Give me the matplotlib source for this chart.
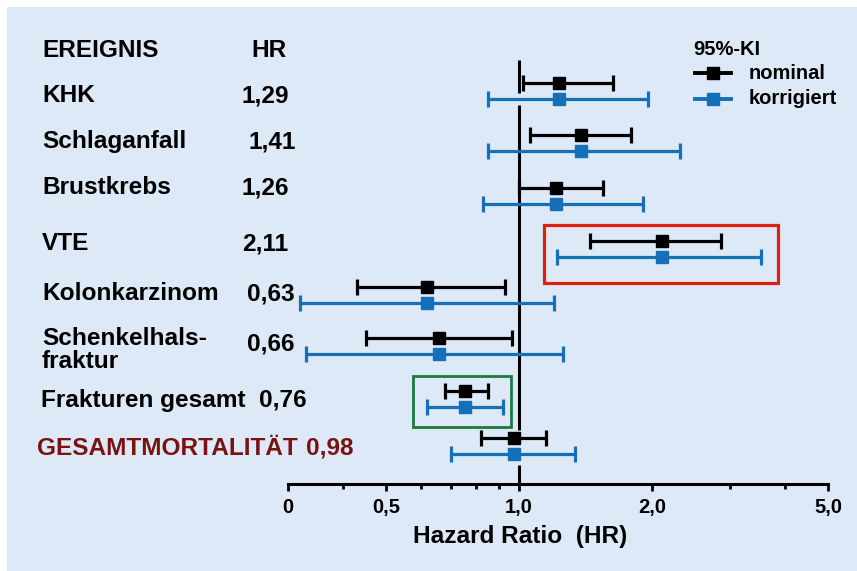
import numpy as np
import matplotlib
matplotlib.use('Agg')
from matplotlib import pyplot as plt
from matplotlib.patches import Rectangle

plt.rcParams['font.family'] = ['Liberation Sans', 'DejaVu Sans']
plt.rcParams['font.weight'] = 'bold'

W, H = 857, 571
bg = '#dde9f7'
blue = '#1570b8'
darkred = '#7a1212'

### Data
events = ['KHK', 'Schlaganfall', 'Brustkrebs', 'VTE', 'Kolonkarzinom',
          'Schenkelhals-\nfraktur', 'Frakturen gesamt', 'GESAMTMORTALITÄT']
hr_text = ['1,29', '1,41', '1,26', '2,11', '0,63', '0,66', '0,76', '0,98']
hr = [1.23, 1.38, 1.21, 2.11, 0.62, 0.66, 0.755, 0.976]
nom_lo = [1.02, 1.06, 1.00, 1.45, 0.43, 0.45, 0.68, 0.82]
nom_hi = [1.63, 1.79, 1.55, 2.87, 0.93, 0.965, 0.85, 1.15]
kor_lo = [0.85, 0.85, 0.83, 1.22, 0.32, 0.33, 0.62, 0.70]
kor_hi = [1.96, 2.31, 1.91, 3.52, 1.20, 1.26, 0.92, 1.34]
xticks = [0.3, 0.5, 1.0, 2.0, 5.0]
xticklabels = ['0', '0,5', '1,0', '2,0', '5,0']
xminor = [0.4, 0.6, 0.7, 0.8, 0.9, 3.0, 4.0]

# layout in pixels
row_y = np.array([91, 143, 196, 249, 295, 346, 399, 446])
label_pos = [(42, 102), (42, 148), (42, 194), (42, 250), (42, 300),
             (42, 345), (41, 407), (37, 455)]
hr_pos = [(242, 102), (249, 149), (242, 195), (242, 250), (247, 300),
          (247, 351), (259, 407), (306, 455)]


fig = plt.figure(figsize=(W/100, H/100), dpi=100)
fig.patch.set_facecolor('white')
fig.patches.append(Rectangle((7/W, 0), 1, (H-7)/H, transform=fig.transFigure,
                             fc=bg, ec='none', zorder=-10))

### Forest plot (y axis in pixels from the top)
ax = fig.add_axes((288/W, (H-484)/H, 540/W, 424/H))
ax.set_facecolor('none')
ax.set_xscale('log')
ax.set_xlim(0.3, 5.0)
ax.set_ylim(484, 60)
off = 8

hr_a = np.array(hr)
ax.errorbar(hr, row_y - off,
            xerr=[hr_a - np.array(nom_lo), np.array(nom_hi) - hr_a],
            fmt='s', color='black', ms=8, elinewidth=2.3, capsize=6, capthick=2.3,
            zorder=4)
ax.errorbar(hr, row_y + off,
            xerr=[hr_a - np.array(kor_lo), np.array(kor_hi) - hr_a],
            fmt='s', color=blue, ms=8, elinewidth=2.3, capsize=6, capthick=2.3,
            zorder=3)

# reference line at HR = 1 (interrupted like in the original)
segs = [(60, 93), (105, 430), (465, 484)]
for a, b in segs:
    ax.plot([1, 1], [a, b], color='black', lw=2.2, zorder=2, solid_capstyle='butt')

# highlight boxes
ax.add_patch(Rectangle((1.136, 225), 3.86 - 1.136, 58,
                       fill=False, ec='#e0200f', lw=2.3, clip_on=False, zorder=1))
ax.add_patch(Rectangle((0.575, 376), 0.959 - 0.575, 51,
                       fill=False, ec='#1b7a3c', lw=2.0, clip_on=False, zorder=1))

for s in ['left', 'right', 'top']:
    ax.spines[s].set_visible(False)
ax.spines['bottom'].set_linewidth(2.2)
ax.set_yticks([])
ax.set_xticks(xticks)
ax.set_xticklabels(xticklabels)
ax.set_xticks(xminor, minor=True)
ax.xaxis.set_minor_formatter(matplotlib.ticker.NullFormatter())
ax.tick_params(axis='x', which='major', length=5, width=2, pad=5, labelsize=14.5)
ax.tick_params(axis='x', which='minor', length=3.5, width=2)
for t in ax.get_xticklabels():
    t.set_fontweight('bold')

### Text overlay in pixel coordinates
ov = fig.add_axes((0, 0, 1, 1))
ov.set_xlim(0, W)
ov.set_ylim(H, 0)
ov.axis('off')
ov.patch.set_alpha(0)

fs = 17.6
ov.text(42, 57, 'EREIGNIS', fontsize=fs, va='baseline')
ov.text(251, 57, 'HR', fontsize=fs, va='baseline')
for i, name in enumerate(events):
    col = darkred if i == len(events) - 1 else 'black'
    x, y = label_pos[i]
    for j, line in enumerate(name.split('\n')):
        ov.text(x, y + 23*j, line, fontsize=fs, va='baseline', color=col)
    hx, hy = hr_pos[i]
    ov.text(hx, hy, hr_text[i], fontsize=fs, va='baseline', color=col)

ov.text(520, 543, 'Hazard Ratio  (HR)', fontsize=fs, ha='center', va='baseline')

# legend
ov.text(693, 55, '95%-KI', fontsize=14.5, va='baseline')
ov.plot([695, 713, 731], [73, 73, 73], color='black', lw=2.8, marker='s', ms=8.5,
        markevery=[1])
ov.text(749, 79, 'nominal', fontsize=14.5, va='baseline')
ov.plot([695, 713, 731], [99, 99, 99], color=blue, lw=2.8, marker='s', ms=8.5,
        markevery=[1])
ov.text(749, 104, 'korrigiert', fontsize=14.5, va='baseline')

plt.savefig('out.png', dpi=100, facecolor=fig.get_facecolor())
